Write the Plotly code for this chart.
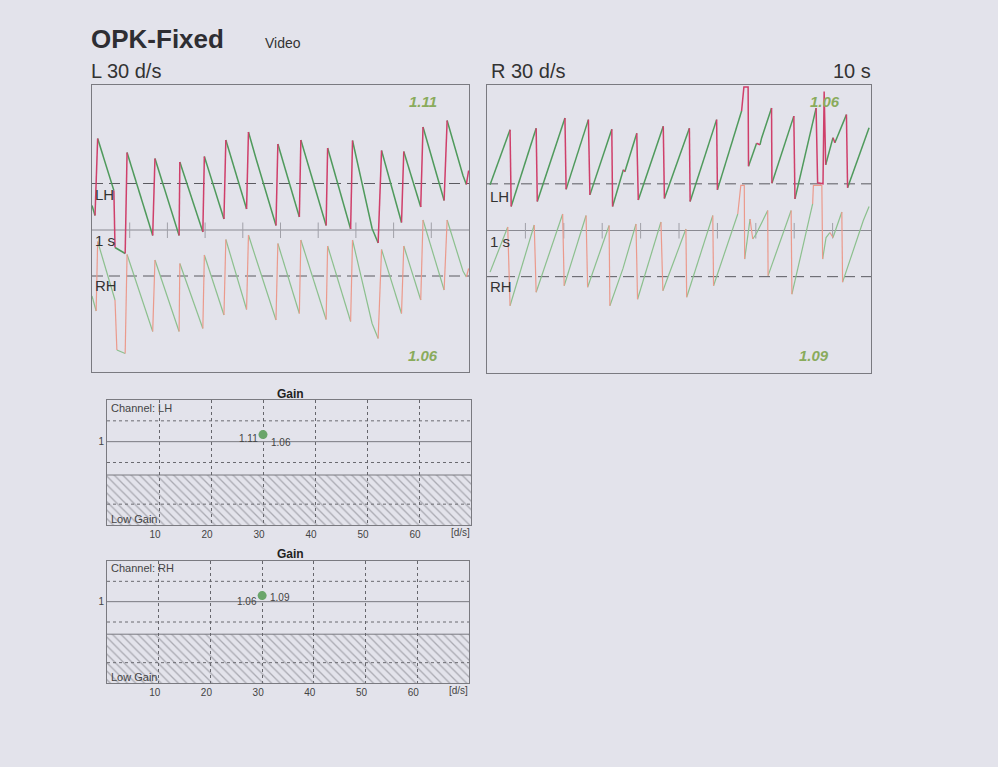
import plotly.graph_objects as go

W, H = 998, 767

# ---------------- data ----------------
# L 30 d/s stimulus: eye position [deg] vs time [s]
L_LH_t = [0.00, 0.08, 0.15, 0.58, 0.61, 0.88, 0.93, 1.61, 1.67, 2.31, 2.33, 2.94, 2.98, 3.50, 3.55, 4.10, 4.15, 4.30, 4.35, 4.88,
          4.93, 5.50, 5.54, 6.21, 6.25, 6.86, 6.91, 7.43, 7.59, 7.68, 8.21, 8.27, 8.72, 8.78, 9.34, 9.42, 9.84, 9.93, 9.99]
L_LH_v = [-4.4, -6.4, 9.0, -1.4, -12.8, -14.0, 6.2, -10.4, 5.0, -10.4, 4.3, -9.7, 5.4, -7.1, 8.7, -5.1, 10.3, 6.2, 5.0, -8.4,
          7.9, -6.7, 8.7, -8.4, 7.1, -9.1, 8.6, -9.0, -11.9, 6.6, -7.8, 6.4, -4.7, 11.3, -3.4, 12.6, 1.6, -0.2, 2.6]
L_RH_t = [0.00, 0.11, 0.15, 0.61, 0.66, 0.88, 0.93, 1.61, 1.67, 2.31, 2.33, 2.94, 2.98, 3.50, 3.55, 4.10, 4.15, 4.30, 4.35, 4.88,
          4.93, 5.50, 5.54, 6.21, 6.25, 6.86, 6.91, 7.43, 7.59, 7.68, 8.21, 8.27, 8.72, 8.78, 9.34, 9.42, 9.84, 9.93, 9.99]
L_RH_v = [-4.0, -7.0, 6.9, -4.8, -14.8, -15.5, 4.3, -11.1, 3.2, -11.1, 2.5, -10.5, 4.2, -7.8, 7.3, -6.7, 8.2, 4.5, 3.5, -8.8,
          6.5, -7.5, 7.2, -8.7, 6.0, -9.1, 7.2, -9.5, -12.5, 5.3, -7.5, 6.0, -4.8, 11.2, -2.8, 11.2, 1.0, -0.2, 1.5]

# R 30 d/s stimulus
R_LH_t = [0.08, 0.60, 0.63, 1.28, 1.31, 2.03, 2.06, 2.64, 2.68, 3.25, 3.27, 3.55, 3.59, 3.90, 3.94, 4.59, 4.62, 5.27, 5.29, 5.98,
          6.00, 6.63, 6.69, 6.80, 6.81, 7.02, 7.11, 7.15, 7.41, 7.42, 7.99, 8.02, 8.57, 8.61, 8.75, 8.78, 8.82, 8.91, 9.01, 9.06,
          9.36, 9.39, 9.95]
R_LH_v = [-0.2, 10.8, -4.5, 11.1, -3.5, 13.1, -1.1, 12.8, -2.2, 10.9, -4.5, 2.8, 2.4, 10.1, -3.2, 11.5, -2.9, 11.1, -3.5, 12.8,
          -1.2, 14.5, 19.3, 19.3, 3.5, 8.1, 7.8, 9.1, 15.1, 0.1, 13.5, -3.0, 15.1, 0.2, 0.0, 18.4, 3.8, 6.4, 9.2, 8.2,
          13.8, -0.8, 11.2]
R_RH_t = [0.08, 0.54, 0.60, 1.23, 1.28, 1.97, 2.01, 2.58, 2.62, 3.18, 3.20, 3.54, 3.88, 3.92, 4.53, 4.58, 5.18, 5.20, 5.88, 5.90,
          6.53, 6.61, 6.70, 6.71, 6.85, 6.92, 7.01, 7.31, 7.32, 7.92, 7.94, 8.48, 8.50, 8.72, 8.74, 8.83, 8.93, 9.01, 9.24, 9.26,
          9.80, 9.95]
R_RH_v = [0.9, 9.9, -5.8, 10.3, -3.1, 12.5, -1.8, 12.2, -2.1, 10.2, -5.8, 1.6, 10.5, -4.5, 10.9, -2.8, 9.5, -4.1, 12.2, -1.8,
          12.5, 18.2, 18.2, 3.5, 11.5, 7.5, 8.5, 13.2, 0.2, 13.2, -3.5, 14.5, 18.2, 18.2, 3.5, 7.8, 8.8, 7.8, 12.9, -1.1,
          11.2, 14.0]

second_marks = [1, 2, 3, 4, 5, 6, 7, 8, 9]

# gains
stim_speed = 30
gain_LH = {"L": 1.11, "R": 1.06}
gain_RH = {"L": 1.06, "R": 1.09}
speed_ticks = [10, 20, 30, 40, 50, 60]
low_gain_limit = 0.6

# ---------------- styling ----------------
BG = "#e3e3eb"
FONT = "Liberation Sans, Arial, sans-serif"
LH_RED, LH_GREEN = "#cf3f6a", "#4f9a5c"
RH_RED, RH_GREEN = "#eb9a8c", "#8cc08e"
NUM_GREEN = "#8aab5c"
LH_OFF, RH_OFF = 9.3, -9.2


def fx(px):
    return px / W


def fy(py):
    return 1 - py / H


def split_phases(t, v, slow_sign):
    segs = {"fast": ([], []), "slow": ([], [])}
    last = {"fast": None, "slow": None}
    for i in range(len(t) - 1):
        dt = t[i + 1] - t[i]
        dv = v[i + 1] - v[i]
        s = dv / dt if dt > 0 else (1e9 if dv >= 0 else -1e9)
        kind = "slow" if (s * slow_sign > 0 and abs(s) < 60) else "fast"
        xs, ys = segs[kind]
        if last[kind] != i:
            if xs:
                xs.append(None); ys.append(None)
            xs.append(t[i]); ys.append(v[i])
        xs.append(t[i + 1]); ys.append(v[i + 1])
        last[kind] = i + 1
    return segs


fig = go.Figure()


def add_channel(t, v, off, slow_sign, red, green, width, xa, ya):
    segs = split_phases(t, v, slow_sign)
    for kind, col in (("slow", green), ("fast", red)):
        xs, ys = segs[kind]
        fig.add_trace(go.Scatter(x=xs, y=[None if y is None else y + off for y in ys], mode="lines",
                                 line=dict(color=col, width=width), xaxis=xa, yaxis=ya,
                                 hoverinfo="skip", showlegend=False))


# panel decorations (baselines, 1 s line, marks) and traces
for xa, ya, xref, yref in (("x", "y", "x", "y"), ("x2", "y2", "x2", "y2")):
    for off in (LH_OFF, RH_OFF):
        fig.add_shape(type="line", xref=xref, yref=yref, x0=0, x1=10, y0=off, y1=off,
                      line=dict(color="#5a5a60", width=1, dash="11px,6px"), layer="below")
    fig.add_shape(type="line", xref=xref, yref=yref, x0=0, x1=10, y0=0, y1=0,
                  line=dict(color="#8a8a92", width=1), layer="below")
    mx, my = [], []
    for s in second_marks:
        mx += [s, s, None]
        my += [-1.6, 1.5, None]
    fig.add_trace(go.Scatter(x=mx, y=my, mode="lines", line=dict(color="#a0a0a8", width=1),
                             xaxis=xa, yaxis=ya, hoverinfo="skip", showlegend=False))

add_channel(L_RH_t, L_RH_v, RH_OFF, -1, RH_RED, RH_GREEN, 1.2, "x", "y")
add_channel(L_LH_t, L_LH_v, LH_OFF, -1, LH_RED, LH_GREEN, 1.5, "x", "y")
add_channel(R_RH_t, R_RH_v, RH_OFF, 1, RH_RED, RH_GREEN, 1.2, "x2", "y2")
add_channel(R_LH_t, R_LH_v, LH_OFF, 1, LH_RED, LH_GREEN, 1.5, "x2", "y2")

# gain plots
for xa, ya, gains in (("x3", "y3", gain_LH), ("x4", "y4", gain_RH)):
    fig.add_trace(go.Scatter(x=[0, 70, 70, 0, 0],
                             y=[0, 0, low_gain_limit, low_gain_limit, 0],
                             mode="lines", fill="toself", line=dict(width=0, color="rgba(0,0,0,0)"),
                             fillcolor="rgba(0,0,0,0)",
                             fillpattern=dict(shape="\\", fgcolor="#72727a", bgcolor="rgba(0,0,0,0)",
                                              size=6, solidity=0.22),
                             xaxis=xa, yaxis=ya, hoverinfo="skip", showlegend=False))
    for yv, dash in ((1.25, "dot"), (0.75, "dot"), (0.25, "dot"), (1.0, "solid"), (low_gain_limit, "solid")):
        fig.add_shape(type="line", xref=xa, yref=ya, x0=0, x1=70, y0=yv, y1=yv,
                      line=dict(color="#6a6a70" if dash == "dot" else "#7a7a80", width=1, dash=dash),
                      layer="below")
    mean_gain = (gains["L"] + gains["R"]) / 2
    fig.add_trace(go.Scatter(x=[stim_speed], y=[mean_gain], mode="markers",
                             marker=dict(color="#6aa56a", size=9),
                             xaxis=xa, yaxis=ya, hoverinfo="skip", showlegend=False))

axis_common = dict(showline=True, mirror=True, linecolor="#7a7a80", linewidth=1,
                   showgrid=False, zeroline=False, ticks="", fixedrange=True)

layout = dict(
    width=W, height=H, autosize=False,
    margin=dict(l=0, r=0, t=0, b=0),
    paper_bgcolor=BG, plot_bgcolor=BG,
    font=dict(family=FONT, color="#333"),
    showlegend=False,
    hovermode=False,
    xaxis=dict(domain=[fx(92), fx(469)], range=[0, 10], showticklabels=False, anchor="y", **axis_common),
    yaxis=dict(domain=[fy(372), fy(85)], range=[-28.4, 29], showticklabels=False, anchor="x", **axis_common),
    xaxis2=dict(domain=[fx(487), fx(871)], range=[0, 10], showticklabels=False, anchor="y2", **axis_common),
    yaxis2=dict(domain=[fy(373), fy(85)], range=[-28.4, 29], showticklabels=False, anchor="x2", **axis_common),
)
for n, (x0, x1, y0, y1) in ((3, (107, 471, 525, 400)), (4, (107, 469, 683, 561))):
    ax = dict(axis_common)
    ax.update(showgrid=True, griddash="dot", gridcolor="#66666c", gridwidth=1)
    layout[f"xaxis{n}"] = dict(domain=[fx(x0), fx(x1)], range=[0, 70], anchor=f"y{n}",
                               tickvals=speed_ticks, ticktext=[str(v) for v in speed_ticks],
                               tickfont=dict(size=10, color="#444"), ticklabelshift=-4,
                               ticklabelstandoff=0, **ax)
    layout[f"yaxis{n}"] = dict(domain=[fy(y0), fy(y1)], range=[0, 1.5], anchor=f"x{n}",
                               tickvals=[1], ticktext=["1"], tickfont=dict(size=10, color="#444"),
                               ticklabelstandoff=0, **axis_common)
fig.update_layout(**layout)


def ann(text, x, y, size, xanchor="left", color="#333", xref="paper", yref="paper"):
    fig.add_annotation(text=text, x=x if xref != "paper" else fx(x), y=y if yref != "paper" else fy(y),
                       xref=xref, yref=yref, showarrow=False, xanchor=xanchor, yanchor="middle",
                       font=dict(size=size, color=color, family=FONT))


ann("<b>OPK-Fixed</b>", 89, 39, 26, color="#2e2e33")
ann("Video", 263, 43, 14)
ann("L 30 d/s", 89, 71, 20)
ann("R 30 d/s", 489, 71, 20)
ann("10 s", 873, 71, 20, xanchor="right")

for x0, ys in ((93, (194, 240, 285)), (488, (196, 241, 286))):
    for lab, yy in zip(("LH", "1 s", "RH"), ys):
        ann(lab, x0, yy, 15)

ann(f"<b><i>{gain_LH['L']:.2f}</i></b>", 423, 101, 15, xanchor="center", color=NUM_GREEN)
ann(f"<b><i>{gain_RH['L']:.2f}</i></b>", 423, 355, 15, xanchor="center", color=NUM_GREEN)
ann(f"<b><i>{gain_LH['R']:.2f}</i></b>", 825, 101, 15, xanchor="center", color=NUM_GREEN)
ann(f"<b><i>{gain_RH['R']:.2f}</i></b>", 814, 355, 15, xanchor="center", color=NUM_GREEN)

# gain plot texts
for (ty, chy, lgy, axn, ch, gains, ly, ry) in ((394, 408, 519, 3, "LH", gain_LH, 1.04, 0.99),
                                                (554, 568, 677, 4, "RH", gain_RH, 1.0, 1.05)):
    ann("<b>Gain</b>", 290, ty, 12, xanchor="center", color="#222")
    ann(f"Channel: {ch}", 109, chy, 11, color="#444")
    ann("Low Gain", 109, lgy, 11, color="#444")
    ann(f"{gains['L']:.2f}", stim_speed - 0.6, ly, 10, xanchor="right", color="#444",
        xref=f"x{axn}", yref=f"y{axn}")
    ann(f"{gains['R']:.2f}", stim_speed + 1.2, ry, 10, xanchor="left", color="#444",
        xref=f"x{axn}", yref=f"y{axn}")
ann("[d/s]", 472, 532, 10, xanchor="right", color="#444")
ann("[d/s]", 470, 690, 10, xanchor="right", color="#444")

fig.write_html("out.html",
               config={"displayModeBar": False, "staticPlot": True},
               post_script=("document.documentElement.style.margin='0';"
                            "document.body.style.margin='0';"
                            "document.body.style.background='%s';" % BG))
